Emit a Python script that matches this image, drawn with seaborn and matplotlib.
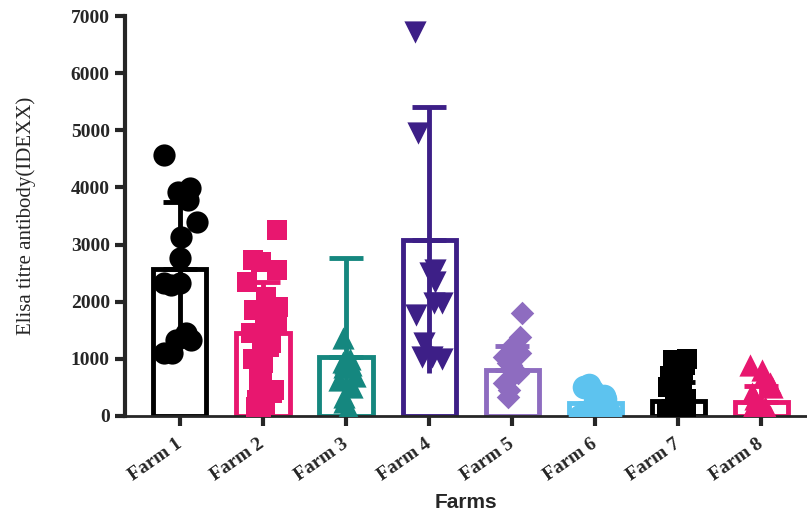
import numpy as np
import pandas as pd
import seaborn as sns
import matplotlib.pyplot as plt

np.random.seed(7)

farms = ["Farm 1", "Farm 2", "Farm 3", "Farm 4", "Farm 5", "Farm 6", "Farm 7", "Farm 8"]

# individual titres
farm1 = [4570, 3990, 3920, 3780, 3400, 3130, 2760, 2330, 2300, 2330, 1450, 1330, 1330, 1100, 1100]
farm2 = [3250, 2730, 2700, 2560, 2350, 2090, 1910, 1850, 1740, 1600, 1450, 1400, 1280,
         1200, 1100, 1000, 930, 850, 680, 600, 450, 400, 280, 200, 160, 100]
farm3 = [1360, 1000, 950, 930, 900, 850, 700, 630, 500, 330, 250, 100, 50, 0]
farm4 = [6720, 4950, 2555, 2500, 2345, 1980, 1980, 1770, 1280, 1035, 1035, 1000]
farm5 = [1800, 1380, 1210, 1100, 1030, 930, 900, 750, 700, 580, 450, 330]
farm6 = [550, 500, 450, 420, 350, 300, 250, 200, 150, 100, 80, 50, 20, 0]
farm7 = [1000, 980, 950, 900, 800, 700, 600, 500, 400, 300, 280, 250, 200, 150, 100, 50, 0, 0]
farm8 = [900, 800, 700, 580, 500, 400, 300, 160, 120, 80, 50, 20, 0, 0]
points = [farm1, farm2, farm3, farm4, farm5, farm6, farm7, farm8]

# bar height (mean) and SD as drawn
means = [2580, 1450, 1030, 3080, 800, 230, 260, 240]
sds = [1170, 900, 1730, 2330, 420, 170, 330, 280]

colors = ["#000000", "#E8176F", "#15877F", "#3D1F87", "#8E6CC0", "#5DC3EF", "#000000", "#E8176F"]
markers = ["o", "s", "^", "v", "D", "o", "s", "^"]
msizes = [16, 14, 16, 16, 12, 17, 15, 16]
jitters = [0.22, 0.2, 0.14, 0.17, 0.14, 0.2, 0.14, 0.15]

sns.set_style("ticks")
plt.rcParams["font.family"] = ["Liberation Serif", "DejaVu Serif"]

fig = plt.figure(figsize=(8.07, 5.18), dpi=100)
ax = fig.add_axes([0.155, 0.197, 0.845, 0.772])

sns.barplot(x=farms, y=means, hue=farms, palette=colors, order=farms, fill=False,
            linewidth=3.5, width=0.64, errorbar=None, legend=False, ax=ax)

pos = np.arange(len(farms))
for i in range(len(farms)):
    # upper whisker with cap, lower part without
    ax.errorbar(pos[i], means[i], yerr=[[0], [sds[i]]], fmt="none", ecolor=colors[i],
                elinewidth=3.5, capsize=12, capthick=3.5, zorder=2)
    ax.errorbar(pos[i], means[i], yerr=[[sds[i]], [0]], fmt="none", ecolor=colors[i],
                elinewidth=3.5, capsize=0, zorder=2)

df = pd.DataFrame({
    "farm": np.repeat(farms, [len(p) for p in points]),
    "titre": np.concatenate(points),
})
for i, f in enumerate(farms):
    sub = df[df["farm"] == f]
    sns.stripplot(data=sub, x="farm", y="titre", order=farms, color=colors[i],
                  marker=markers[i], size=msizes[i], jitter=jitters[i], linewidth=0,
                  zorder=3, ax=ax)

ax.set_ylim(0, 7000)
ax.set_xlim(-0.66, 7.55)
ax.set_yticks(range(0, 7001, 1000))
ax.set_yticklabels([str(v) for v in range(0, 7001, 1000)], fontweight="bold", fontsize=14)
ax.set_xticks(pos)
ax.set_xticklabels(farms, rotation=35, ha="right", va="center", rotation_mode="anchor",
                   fontweight="bold", fontsize=14)
for lab in ax.get_xticklabels():
    lab.set_y(-0.035)

ax.set_ylabel("Elisa titre antibody(IDEXX)", fontsize=15)
ax.yaxis.set_label_coords(-0.13, 0.5)
ax.set_xlabel("Farms", fontsize=15, fontweight="bold",
              family=["Liberation Sans", "DejaVu Sans"], labelpad=6)

sns.despine(ax=ax)
ax.spines["left"].set_linewidth(3)
ax.spines["bottom"].set_linewidth(2)
ax.tick_params(axis="y", length=7, width=3, pad=4)
ax.tick_params(axis="x", length=7, width=3, pad=2)

fig.savefig("out.png", dpi=100)
